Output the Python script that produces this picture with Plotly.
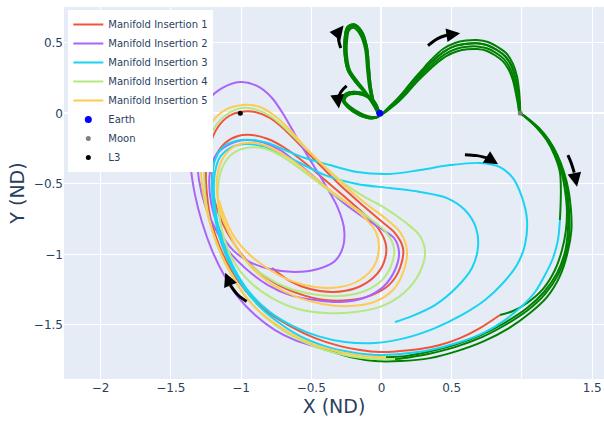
import plotly.graph_objects as go

# ---------------- bodies ----------------
earth_x, earth_y = [-0.01215], [0.0]
moon_x, moon_y = [0.98785], [0.0]
l3_x, l3_y = [-1.00506], [0.0]

# ---------------- manifold insertions ----------------
red_x = [0.843, 0.701, 0.559, 0.416, 0.274, 0.132, -0.015, -0.153, -0.295, -0.473, -0.651, -0.829, -0.971, -1.078, -1.157, -1.214, -1.242, -1.249, -1.221, -1.164, -1.085, -1.007, -0.900, -0.794, -0.687, -0.580, -0.438, -0.295, -0.153, -0.011, 0.096, 0.153, 0.132, 0.060, -0.068, -0.224, -0.402, -0.580, -0.758, -0.922, -1.043, -1.135, -1.192, -1.206, -1.185, -1.113, -1.021, -0.922, -0.808, -0.687, -0.544, -0.402, -0.260, -0.139, -0.025, 0.032, 0.018, -0.053, -0.181, -0.345, -0.509, -0.651, -0.779]
red_y = [-1.430, -1.523, -1.594, -1.643, -1.672, -1.686, -1.693, -1.679, -1.651, -1.594, -1.509, -1.395, -1.253, -1.097, -0.934, -0.757, -0.580, -0.402, -0.225, -0.097, -0.019, 0.009, 0.009, -0.033, -0.118, -0.225, -0.367, -0.509, -0.636, -0.757, -0.849, -0.955, -1.097, -1.211, -1.289, -1.324, -1.324, -1.282, -1.204, -1.083, -0.934, -0.771, -0.601, -0.459, -0.318, -0.211, -0.161, -0.154, -0.182, -0.246, -0.352, -0.473, -0.594, -0.700, -0.813, -0.934, -1.055, -1.161, -1.239, -1.267, -1.246, -1.190, -1.097]

purple_x = [-0.459, -0.616, -0.758, -0.900, -1.021, -1.121, -1.207, -1.278, -1.327, -1.356, -1.349, -1.306, -1.235, -1.135, -1.007, -0.886, -0.779, -0.687, -0.594, -0.495, -0.395, -0.310, -0.267, -0.274, -0.331, -0.452, -0.616, -0.794, -0.936, -1.057, -1.135, -1.192, -1.221, -1.221, -1.178, -1.093, -0.971, -0.851, -0.722, -0.580, -0.438, -0.295, -0.153, -0.011, 0.089, 0.125, 0.096, 0.011, -0.125, -0.295, -0.473, -0.651, -0.808, -0.971, -1.093, -1.185, -1.256, -1.299, -1.313, -1.313]
purple_y = [-1.657, -1.608, -1.537, -1.430, -1.303, -1.147, -0.970, -0.771, -0.580, -0.388, -0.189, -0.033, 0.094, 0.179, 0.222, 0.194, 0.109, -0.026, -0.189, -0.352, -0.516, -0.672, -0.813, -0.948, -1.047, -1.104, -1.125, -1.104, -1.055, -0.970, -0.863, -0.721, -0.580, -0.416, -0.296, -0.225, -0.189, -0.204, -0.260, -0.367, -0.487, -0.615, -0.721, -0.813, -0.884, -0.984, -1.111, -1.232, -1.310, -1.338, -1.324, -1.289, -1.218, -1.097, -0.970, -0.813, -0.651, -0.473, -0.296, -0.118]

cyan_x = [1.270, 1.256, 1.221, 1.164, 1.093, 1.000, 0.879, 0.737, 0.559, 0.345, 0.132, -0.046, -0.224, -0.402, -0.580, -0.737, -0.886, -1.007, -1.100, -1.164, -1.199, -1.206, -1.185, -1.128, -1.036, -0.922, -0.808, -0.687, -0.544, -0.367, -0.174, 0.060, 0.274, 0.488, 0.701, 0.843, 0.936, 1.000, 1.036, 1.021, 0.964, 0.865, 0.737, 0.573, 0.381, 0.167, -0.046, -0.260, -0.452, -0.630, -0.794, -0.936, -1.043, -1.121, -1.171, -1.192, -1.185, -1.149, -1.078, -0.971, -0.851, -0.722, -0.580, -0.402, -0.174, 0.060, 0.274, 0.466, 0.594, 0.673, 0.687, 0.644, 0.537, 0.381, 0.217, 0.096]
cyan_y = [-0.757, -0.899, -1.026, -1.147, -1.267, -1.367, -1.466, -1.551, -1.622, -1.679, -1.707, -1.714, -1.693, -1.651, -1.580, -1.480, -1.352, -1.196, -1.026, -0.842, -0.650, -0.473, -0.331, -0.239, -0.196, -0.189, -0.211, -0.260, -0.317, -0.367, -0.416, -0.430, -0.402, -0.367, -0.352, -0.381, -0.459, -0.594, -0.757, -0.934, -1.076, -1.203, -1.324, -1.430, -1.523, -1.594, -1.629, -1.622, -1.580, -1.509, -1.410, -1.274, -1.111, -0.934, -0.757, -0.580, -0.416, -0.310, -0.246, -0.218, -0.232, -0.282, -0.352, -0.438, -0.501, -0.530, -0.558, -0.601, -0.686, -0.813, -0.948, -1.097, -1.232, -1.360, -1.438, -1.480]

lgreen_x = [0.096, -0.046, -0.224, -0.402, -0.580, -0.758, -0.915, -1.036, -1.135, -1.206, -1.249, -1.263, -1.249, -1.199, -1.107, -0.993, -0.879, -0.772, -0.665, -0.544, -0.402, -0.260, -0.117, 0.025, 0.167, 0.274, 0.310, 0.274, 0.167, 0.004, -0.189, -0.402, -0.594, -0.779, -0.936, -1.050, -1.121, -1.157, -1.164, -1.135, -1.064, -0.964, -0.851, -0.737, -0.616, -0.473, -0.331, -0.189, -0.068, 0.032, 0.089, 0.068, -0.011, -0.139, -0.310, -0.495, -0.665, -0.829, -0.971, -1.064]
lgreen_y = [-1.743, -1.743, -1.722, -1.679, -1.608, -1.501, -1.360, -1.196, -1.019, -0.827, -0.629, -0.438, -0.260, -0.118, -0.012, 0.037, 0.023, -0.033, -0.126, -0.246, -0.381, -0.501, -0.594, -0.672, -0.771, -0.870, -0.984, -1.125, -1.267, -1.367, -1.409, -1.416, -1.388, -1.310, -1.196, -1.055, -0.884, -0.700, -0.530, -0.388, -0.289, -0.246, -0.246, -0.289, -0.367, -0.473, -0.580, -0.672, -0.757, -0.842, -0.955, -1.083, -1.196, -1.267, -1.296, -1.282, -1.239, -1.154, -1.040, -0.899]

yellow_x = [0.032, -0.117, -0.295, -0.473, -0.651, -0.829, -0.971, -1.078, -1.164, -1.228, -1.270, -1.285, -1.263, -1.206, -1.114, -0.986, -0.865, -0.758, -0.651, -0.544, -0.402, -0.260, -0.117, 0.025, 0.132, 0.181, 0.160, 0.082, -0.053, -0.224, -0.423, -0.601, -0.772, -0.922, -1.036, -1.121, -1.164, -1.171, -1.135, -1.064, -0.971, -0.865, -0.758, -0.637, -0.509, -0.367, -0.224, -0.117, -0.039, -0.018, -0.053, -0.153, -0.295, -0.473, -0.637, -0.794, -0.936, -1.043, -1.114, -1.157]
yellow_y = [-1.729, -1.722, -1.693, -1.643, -1.558, -1.438, -1.296, -1.125, -0.941, -0.757, -0.559, -0.367, -0.189, -0.062, 0.023, 0.059, 0.045, -0.019, -0.118, -0.239, -0.381, -0.516, -0.636, -0.743, -0.842, -0.970, -1.111, -1.253, -1.338, -1.367, -1.352, -1.303, -1.218, -1.097, -0.941, -0.771, -0.615, -0.459, -0.331, -0.246, -0.211, -0.218, -0.260, -0.331, -0.430, -0.544, -0.650, -0.743, -0.842, -0.955, -1.083, -1.182, -1.232, -1.232, -1.190, -1.111, -1.005, -0.884, -0.743, -0.615]

# ---------------- green transfer legs ----------------
loop_a_x = [-0.011, -0.053, -0.082, -0.096, -0.110, -0.146, -0.196, -0.238, -0.253, -0.253, -0.231, -0.181, -0.117, -0.068, -0.032, -0.018, -0.068, -0.153, -0.231, -0.270, -0.246, -0.174, -0.089, -0.039, -0.011]
loop_a_y = [-0.005, 0.066, 0.179, 0.321, 0.463, 0.570, 0.619, 0.598, 0.520, 0.414, 0.307, 0.229, 0.151, 0.080, 0.016, -0.019, -0.030, -0.005, 0.045, 0.094, 0.133, 0.144, 0.116, 0.059, 0.002]
loop_b_x = [-0.011, -0.050, -0.075, -0.089, -0.103, -0.139, -0.196, -0.245, -0.263, -0.263, -0.241, -0.188, -0.121, -0.071, -0.034, -0.018, -0.072, -0.160, -0.241, -0.279, -0.253, -0.174, -0.085, -0.036, -0.011]
loop_b_y = [-0.005, 0.070, 0.185, 0.328, 0.470, 0.580, 0.632, 0.610, 0.527, 0.418, 0.307, 0.225, 0.149, 0.080, 0.016, -0.019, -0.036, -0.012, 0.043, 0.096, 0.140, 0.152, 0.122, 0.062, 0.002]
loop_c_x = [-0.011, -0.056, -0.086, -0.103, -0.117, -0.153, -0.199, -0.231, -0.245, -0.245, -0.224, -0.174, -0.113, -0.064, -0.030, -0.018, -0.064, -0.146, -0.224, -0.262, -0.238, -0.170, -0.092, -0.043, -0.011]
loop_c_y = [-0.005, 0.062, 0.172, 0.314, 0.456, 0.560, 0.606, 0.588, 0.513, 0.410, 0.307, 0.232, 0.154, 0.082, 0.018, -0.019, -0.026, 0.000, 0.048, 0.092, 0.127, 0.137, 0.110, 0.056, 0.002]

arc_a_x = [-0.004, 0.060, 0.110, 0.167, 0.224, 0.288, 0.352, 0.438, 0.523, 0.601, 0.680, 0.758, 0.829, 0.893, 0.936, 0.964, 0.979, 0.986, 0.989]
arc_a_y = [-0.005, 0.052, 0.101, 0.165, 0.236, 0.307, 0.378, 0.456, 0.499, 0.516, 0.520, 0.506, 0.470, 0.421, 0.350, 0.265, 0.165, 0.073, 0.002]
arc_b_x = [0.000, 0.064, 0.114, 0.171, 0.228, 0.292, 0.359, 0.445, 0.530, 0.605, 0.680, 0.754, 0.822, 0.882, 0.925, 0.953, 0.970, 0.980, 0.985]
arc_b_y = [-0.005, 0.048, 0.095, 0.158, 0.228, 0.297, 0.366, 0.438, 0.480, 0.494, 0.497, 0.483, 0.449, 0.403, 0.337, 0.255, 0.160, 0.070, 0.002]
arc_c_x = [0.004, 0.068, 0.119, 0.177, 0.234, 0.299, 0.367, 0.452, 0.535, 0.608, 0.680, 0.750, 0.815, 0.872, 0.914, 0.943, 0.962, 0.975, 0.984]
arc_c_y = [-0.005, 0.044, 0.089, 0.150, 0.219, 0.286, 0.352, 0.420, 0.458, 0.472, 0.474, 0.461, 0.428, 0.384, 0.322, 0.244, 0.155, 0.068, 0.002]
arc_d_x = [0.006, 0.071, 0.123, 0.182, 0.240, 0.306, 0.374, 0.458, 0.540, 0.611, 0.680, 0.747, 0.808, 0.863, 0.905, 0.935, 0.955, 0.971, 0.983]
arc_d_y = [-0.005, 0.041, 0.084, 0.143, 0.210, 0.276, 0.340, 0.404, 0.440, 0.454, 0.456, 0.444, 0.412, 0.370, 0.311, 0.236, 0.150, 0.066, 0.002]

outer_red_x = [0.990, 1.041, 1.111, 1.180, 1.238, 1.281, 1.306, 1.320, 1.313, 1.285, 1.235, 1.149, 1.036, 0.936, 0.843]
outer_red_y = [0.000, -0.040, -0.104, -0.189, -0.296, -0.416, -0.544, -0.686, -0.828, -0.970, -1.111, -1.246, -1.345, -1.402, -1.430]
outer_cyan_x = [0.990, 1.039, 1.107, 1.175, 1.231, 1.270, 1.277, 1.275, 1.270]
outer_cyan_y = [0.000, -0.040, -0.104, -0.189, -0.296, -0.416, -0.544, -0.650, -0.757]
outer_lgreen_x = [0.990, 1.045, 1.118, 1.189, 1.249, 1.294, 1.324, 1.335, 1.338, 1.317, 1.260, 1.164, 1.043, 0.893, 0.715, 0.523, 0.331, 0.203, 0.096]
outer_lgreen_y = [0.000, -0.040, -0.104, -0.189, -0.296, -0.416, -0.544, -0.686, -0.828, -0.984, -1.140, -1.282, -1.395, -1.494, -1.587, -1.658, -1.707, -1.729, -1.743]
outer_yellow_x = [0.990, 1.043, 1.114, 1.185, 1.245, 1.290, 1.318, 1.327, 1.327, 1.306, 1.249, 1.157, 1.036, 0.886, 0.708, 0.516, 0.324, 0.167, 0.032]
outer_yellow_y = [0.000, -0.040, -0.104, -0.189, -0.296, -0.416, -0.544, -0.686, -0.828, -0.984, -1.133, -1.267, -1.381, -1.480, -1.572, -1.643, -1.693, -1.722, -1.729]
outer_purple_x = [0.990, 1.047, 1.121, 1.192, 1.253, 1.299, 1.331, 1.349, 1.352, 1.324, 1.270, 1.178, 1.057, 0.908, 0.730, 0.537, 0.345, 0.132, -0.046, -0.224, -0.367, -0.459]
outer_purple_y = [0.000, -0.040, -0.104, -0.189, -0.296, -0.416, -0.544, -0.686, -0.828, -0.991, -1.154, -1.303, -1.416, -1.523, -1.615, -1.686, -1.736, -1.757, -1.757, -1.729, -1.686, -1.657]

# ---------------- direction arrows ----------------
arrow1_x = [-0.290, -0.306, -0.300, -0.270]; arrow1_y = [0.463, 0.530, 0.585, 0.622]
arrow2_x = [-0.248, -0.290, -0.310, -0.303]; arrow2_y = [0.194, 0.150, 0.090, 0.035]
arrow3_x = [0.331, 0.400, 0.470, 0.560]; arrow3_y = [0.480, 0.530, 0.555, 0.568]
arrow4_x = [0.594, 0.680, 0.760, 0.830]; arrow4_y = [-0.293, -0.300, -0.318, -0.362]
arrow5_x = [1.327, 1.350, 1.372, 1.392]; arrow5_y = [-0.296, -0.350, -0.420, -0.520]
arrow6_x = [-0.960, -1.025, -1.075, -1.112]; arrow6_y = [-1.335, -1.285, -1.220, -1.130]

fig = go.Figure()

green_legs = [
    (loop_a_x + arc_a_x + outer_red_x, loop_a_y + arc_a_y + outer_red_y),
    (loop_b_x + arc_b_x + outer_purple_x, loop_b_y + arc_b_y + outer_purple_y),
    (loop_c_x + arc_c_x + outer_cyan_x, loop_c_y + arc_c_y + outer_cyan_y),
    (loop_b_x + arc_d_x + outer_lgreen_x, loop_b_y + arc_d_y + outer_lgreen_y),
    (loop_a_x + arc_b_x + outer_yellow_x, loop_a_y + arc_b_y + outer_yellow_y),
]
for gx, gy in green_legs:
    fig.add_trace(go.Scatter(x=gx, y=gy, mode="lines", showlegend=False, hoverinfo="skip",
                             line=dict(color="green", width=2, shape="spline", smoothing=0.9)))

manifolds = [
    ("Manifold Insertion 1", "#EF553B", red_x, red_y),
    ("Manifold Insertion 2", "#AB63FA", purple_x, purple_y),
    ("Manifold Insertion 3", "#19D3F3", cyan_x, cyan_y),
    ("Manifold Insertion 4", "#B6E880", lgreen_x, lgreen_y),
    ("Manifold Insertion 5", "#FECB52", yellow_x, yellow_y),
]
for name, color, mx, my in manifolds:
    fig.add_trace(go.Scatter(x=mx, y=my, mode="lines", name=name,
                             line=dict(color=color, width=2, shape="spline", smoothing=0.9)))

fig.add_trace(go.Scatter(x=earth_x, y=earth_y, mode="markers", name="Earth",
                         marker=dict(color="blue", size=7)))
fig.add_trace(go.Scatter(x=moon_x, y=moon_y, mode="markers", name="Moon",
                         marker=dict(color="gray", size=5)))
fig.add_trace(go.Scatter(x=l3_x, y=l3_y, mode="markers", name="L3",
                         marker=dict(color="black", size=5)))

arrows = [(arrow1_x, arrow1_y), (arrow2_x, arrow2_y), (arrow3_x, arrow3_y),
          (arrow4_x, arrow4_y), (arrow5_x, arrow5_y), (arrow6_x, arrow6_y)]
for axs, ays in arrows:
    fig.add_trace(go.Scatter(x=axs[:-1], y=ays[:-1], mode="lines", showlegend=False, hoverinfo="skip",
                             line=dict(color="black", width=3, shape="spline")))
    fig.add_annotation(x=axs[-1], y=ays[-1], ax=axs[-2], ay=ays[-2], xref="x", yref="y",
                       axref="x", ayref="y", text="", showarrow=True, arrowhead=2,
                       arrowsize=1.1, arrowwidth=2.5, arrowcolor="black")

fig.update_layout(
    width=604, height=421,
    margin=dict(l=64, r=0, t=7, b=42),
    template="plotly",
    font=dict(family="DejaVu Sans, Verdana, sans-serif", size=12),
    legend=dict(x=0.008, y=0.992, xanchor="left", yanchor="top", bgcolor="white",
                font=dict(size=10), tracegroupgap=0, itemwidth=30),
    xaxis=dict(range=[-2.26, 1.584], tickvals=[-2, -1.5, -1, -0.5, 0, 0.5, 1, 1.5],
               ticktext=["−2", "−1.5", "−1", "−0.5", "0", "0.5", "", "1.5"],
               tickfont=dict(size=12),
               title=dict(text="X (ND)", font=dict(size=19), standoff=4)),
    yaxis=dict(range=[-1.884, 0.754], tickvals=[-1.5, -1, -0.5, 0, 0.5],
               ticktext=["−1.5", "−1", "−0.5", "0", "0.5"],
               tickfont=dict(size=12),
               title=dict(text="Y (ND)", font=dict(size=19), standoff=4)),
)

fig.write_html("out.html")
